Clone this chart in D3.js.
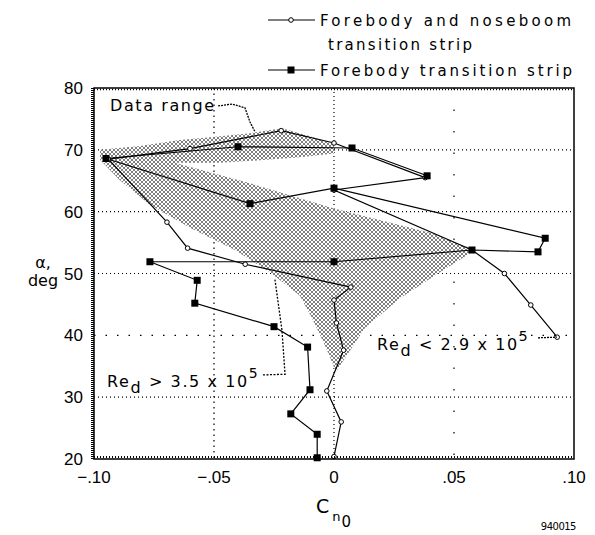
<!DOCTYPE html>
<html><head><meta charset="utf-8">
<script src="https://cdn.jsdelivr.net/npm/d3@7"></script>
<style>
html,body{margin:0;padding:0;background:#fff;}
svg{display:block;}
text{fill:#000;}
</style></head><body>
<svg id="chart" width="595" height="535"></svg>
<script>
// ---- data ----
const xTicks = [-0.10, -0.05, 0, 0.05, 0.10];
const xTickLabels = ["\u2212.10", "\u2212.05", "0", ".05", ".10"];
const yTicks = [20, 30, 40, 50, 60, 70, 80];
const gridX = [-0.05, 0, 0.05];
const gridY = [30, 40, 50, 60, 70];
const seriesLabels = ["Forebody and noseboom", "transition strip", "Forebody transition strip"];

// Forebody and noseboom transition strip (open symbols): [Cn0, alpha]
const noseboomData = [
  [0.000, 20.4], [0.003, 26.0], [-0.003, 31.0], [0.004, 37.6], [0.001, 42.0],
  [0.000, 45.7], [0.007, 47.8], [-0.037, 51.5], [-0.061, 54.1], [-0.0696, 58.3],
  [-0.094, 68.5], [-0.060, 70.2], [-0.022, 73.1], [0.000, 71.1], [0.038, 65.5],
  [0.000, 63.5], [0.0575, 53.8], [0.071, 50.0], [0.082, 44.9], [0.093, 39.7]
];
// Forebody transition strip (filled symbols): [Cn0, alpha]
const forebodyData = [
  [-0.007, 20.2], [-0.007, 24.0], [-0.018, 27.3], [-0.010, 31.2], [-0.011, 38.1],
  [-0.025, 41.4], [-0.058, 45.2], [-0.057, 48.9], [-0.0767, 51.9], [0.000, 51.9],
  [0.0575, 53.8], [0.085, 53.5], [0.088, 55.7], [0.000, 63.8], [-0.035, 61.3],
  [-0.095, 68.6], [-0.040, 70.5], [0.0075, 70.3], [0.0388, 65.8]
];
// Shaded data range outline: [Cn0, alpha]
const dataRange = [
  [-0.0975, 70.0], [-0.0808, 70.6], [-0.0642, 71.6], [-0.0496, 72.1], [-0.035, 72.7],
  [-0.0217, 73.5], [-0.010, 72.2], [0.000, 70.9], [0.000, 69.4], [-0.0142, 68.8],
  [-0.0308, 68.3], [-0.0475, 67.9], [-0.0663, 67.9], [-0.035, 64.6], [0.000, 60.5],
  [0.040, 56.6], [0.0588, 53.8], [0.0442, 50.2], [0.0275, 46.0], [0.0129, 41.2],
  [0.0008, 34.1], [-0.0038, 38.4], [-0.0092, 42.8], [-0.0142, 46.4], [-0.0267, 50.2],
  [-0.0413, 53.8], [-0.060, 57.4], [-0.0767, 61.1], [-0.0892, 65.1], [-0.0975, 68.4]
];
// annotation leaders: [Cn0, alpha]
const leaderDataRange = [[-0.0483, 77.1], [-0.0425, 77.4], [-0.0371, 76.8], [-0.035, 74.5], [-0.0329, 72.9]];
const leaderHighRe = [[-0.0296, 33.6], [-0.0204, 33.7], [-0.0217, 40.9], [-0.0246, 49.0]];
const leaderLowRe = [[0.085, 39.6], [0.0929, 39.7]];

// ---- layout ----
const svg = d3.select("#chart");
const x = d3.scaleLinear().domain([-0.10, 0.10]).range([94, 574]);
const y = d3.scaleLinear().domain([20, 80]).range([459, 88]);
const FONT = "'DejaVu Sans', sans-serif";

const defs = svg.append("defs");
const pat = defs.append("pattern").attr("id", "hatch")
  .attr("patternUnits", "userSpaceOnUse").attr("width", 4).attr("height", 4);
pat.append("rect").attr("width", 4).attr("height", 4).attr("fill", "#fff");
pat.append("path").attr("d", "M0,0L4,4M4,0L0,4").attr("stroke", "#000").attr("stroke-width", 0.5);

// grid
const gx = svg.append("g");
const xDash = {"-0.05": "1.5,4", "0": "1,3", "0.05": "1.5,20"};
gridX.forEach(v => {
  gx.append("line").attr("x1", x(v)).attr("x2", x(v)).attr("y1", y(80)).attr("y2", y(20))
    .attr("stroke", "#000").attr("stroke-width", 1.2).attr("stroke-dasharray", xDash[String(v)]);
});
gridY.forEach(v => {
  gx.append("line").attr("x1", x(-0.1)).attr("x2", x(0.1)).attr("y1", y(v)).attr("y2", y(v))
    .attr("stroke", "#000").attr("stroke-width", 1.2).attr("stroke-dasharray", v === 40 ? "1.5,10" : "1,3");
});

// data range
svg.append("path").datum(dataRange)
  .attr("d", d3.line().x(d => x(d[0])).y(d => y(d[1])).curve(d3.curveLinearClosed))
  .attr("fill", "url(#hatch)").attr("stroke", "none");

const line = d3.line().x(d => x(d[0])).y(d => y(d[1]));
svg.append("path").datum(noseboomData).attr("d", line)
  .attr("fill", "none").attr("stroke", "#000").attr("stroke-width", 1.2);
svg.append("path").datum(forebodyData).attr("d", line)
  .attr("fill", "none").attr("stroke", "#000").attr("stroke-width", 1.2);

svg.append("g").selectAll("circle").data(noseboomData).join("circle")
  .attr("cx", d => x(d[0])).attr("cy", d => y(d[1])).attr("r", 2.3)
  .attr("fill", "#fff").attr("stroke", "#000").attr("stroke-width", 1);
svg.append("g").selectAll("rect").data(forebodyData).join("rect")
  .attr("x", d => x(d[0]) - 3.5).attr("y", d => y(d[1]) - 3.5).attr("width", 7).attr("height", 7)
  .attr("fill", "#000");

// leaders
svg.append("path").datum(leaderDataRange).attr("d", line)
  .attr("fill", "none").attr("stroke", "#000").attr("stroke-width", 1.3).attr("stroke-dasharray", "2,1");
svg.append("path").datum(leaderHighRe).attr("d", line)
  .attr("fill", "none").attr("stroke", "#000").attr("stroke-width", 1.3).attr("stroke-dasharray", "2,1.5");
svg.append("path").datum(leaderLowRe).attr("d", line)
  .attr("fill", "none").attr("stroke", "#000").attr("stroke-width", 1.3).attr("stroke-dasharray", "2,1");

// frame
svg.append("rect").attr("x", x(-0.1)).attr("y", y(80)).attr("width", x(0.1) - x(-0.1)).attr("height", y(20) - y(80))
  .attr("fill", "none").attr("stroke", "#000").attr("stroke-width", 1.5);
// ruler-like minor ticks
svg.append("line").attr("x1", x(-0.1) - 1.5).attr("x2", x(-0.1) - 1.5).attr("y1", y(80)).attr("y2", y(20))
  .attr("stroke", "#000").attr("stroke-width", 3).attr("stroke-dasharray", "1,1");
svg.append("line").attr("x1", x(-0.1)).attr("x2", x(0.1)).attr("y1", y(20) - 2).attr("y2", y(20) - 2)
  .attr("stroke", "#000").attr("stroke-width", 2).attr("stroke-dasharray", "1,2");
svg.append("line").attr("x1", x(-0.1)).attr("x2", x(0.1)).attr("y1", y(80) + 1.5).attr("y2", y(80) + 1.5)
  .attr("stroke", "#000").attr("stroke-width", 1.5).attr("stroke-dasharray", "1,2");

// tick labels
svg.append("g").selectAll("text").data(xTicks).join("text")
  .attr("x", d => x(d)).attr("y", 483).attr("text-anchor", "middle")
  .attr("font-family", "'Liberation Sans', Arial, sans-serif").attr("font-size", 17)
  .text((d, i) => xTickLabels[i]);
svg.append("g").selectAll("text").data(yTicks).join("text")
  .attr("x", 83).attr("y", d => y(d) + 6).attr("text-anchor", "end")
  .attr("font-family", "'Liberation Sans', Arial, sans-serif").attr("font-size", 17)
  .text(d => d);

// axis titles
const xt = svg.append("text").attr("x", 316).attr("y", 513).attr("font-family", FONT).attr("font-size", 19);
xt.append("tspan").text("C");
xt.append("tspan").attr("font-size", 13).attr("dx", 3).attr("dy", 8).text("n");
xt.append("tspan").attr("font-size", 15).attr("dx", 1).attr("dy", 6).text("0");
svg.append("text").attr("x", 43).attr("y", 268).attr("text-anchor", "middle").attr("font-family", FONT).attr("font-size", 16).text("\u03B1,");
svg.append("text").attr("x", 43).attr("y", 286).attr("text-anchor", "middle").attr("font-family", FONT).attr("font-size", 16).text("deg");
svg.append("text").attr("x", 576).attr("y", 530).attr("text-anchor", "end").attr("font-family", FONT).attr("font-size", 10).attr("letter-spacing", -0.5).text("940015");

// annotations
svg.append("text").attr("x", 110).attr("y", 111).attr("font-family", FONT).attr("font-size", 16).attr("letter-spacing", 1.6).text("Data range");
function reLabel(xp, yp, rel, num) {
  const t = svg.append("text").attr("x", xp).attr("y", yp).attr("font-family", FONT).attr("font-size", 16).attr("letter-spacing", 1.6);
  t.append("tspan").text("Re");
  t.append("tspan").attr("dy", 6).text("d");
  t.append("tspan").attr("dy", -6).text(" " + rel + " " + num + " x 10");
  t.append("tspan").attr("dy", -9).attr("font-size", 14).text("5");
}
reLabel(107, 387, ">", "3.5");
reLabel(377, 350, "<", "2.9");

// legend
const lg = svg.append("g");
lg.append("line").attr("x1", 268).attr("x2", 315).attr("y1", 20).attr("y2", 20).attr("stroke", "#000").attr("stroke-width", 1.2);
lg.append("circle").attr("cx", 291).attr("cy", 20).attr("r", 2.3).attr("fill", "#fff").attr("stroke", "#000");
lg.append("line").attr("x1", 268).attr("x2", 315).attr("y1", 70).attr("y2", 70).attr("stroke", "#000").attr("stroke-width", 1.2);
lg.append("rect").attr("x", 287.5).attr("y", 66.5).attr("width", 7).attr("height", 7).attr("fill", "#000");
const legY = [26, 50, 76];
const legX = [320, 328, 320];
const legLen = [251, 144, 252];
seriesLabels.forEach((s, i) => {
  lg.append("text").attr("x", legX[i]).attr("y", legY[i]).attr("font-family", FONT).attr("font-size", 15)
    .attr("textLength", legLen[i]).attr("lengthAdjust", "spacing").text(s);
});
</script>
</body></html>
